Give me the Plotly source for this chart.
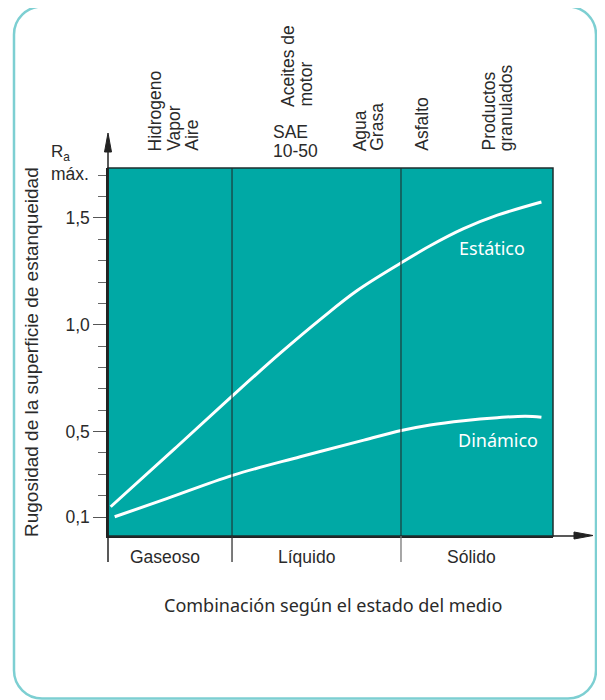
import plotly.graph_objects as go

# ---------------- data ----------------
estatico_x = [0.06, 1.5, 2.80, 3.87, 4.8, 5.6, 6.59, 7.24, 7.99, 8.75, 9.74]
estatico_y = [0.148, 0.42, 0.668, 0.867, 1.03, 1.16, 1.29, 1.37, 1.45, 1.513, 1.575]

dinamico_x = [0.15, 1.32, 2.80, 4.32, 5.75, 6.59, 7.24, 7.99, 8.75, 9.38, 9.74]
dinamico_y = [0.101, 0.186, 0.295, 0.382, 0.460, 0.505, 0.531, 0.551, 0.565, 0.572, 0.567]

region_bounds = [0.0, 2.787, 6.584, 10.0]
region_labels = ["Gaseoso", "Líquido", "Sólido"]
region_label_x = [1.28, 4.45, 8.16]

y_major = [0.1, 0.5, 1.0, 1.5]
y_major_text = ["0,1", "0,5", "1,0", "1,5"]
y_minor = [0.2, 0.3, 0.4, 0.6, 0.7, 0.8, 0.9, 1.1, 1.2, 1.3, 1.4, 1.6, 1.7]

# media labels above the chart (text, x position in data units)
media_rot = [("Hidrogeno", 1.056), ("Vapor", 1.48), ("Aire", 1.87),
             ("Agua", 5.66), ("Grasa", 6.04), ("Asfalto", 7.05),
             ("Productos", 8.54), ("granulados", 8.94)]
media_rot_high = [("Aceites de", 4.045), ("motor", 4.45)]
media_horiz = ["SAE", "10-50"]

# ---------------- layout constants ----------------
OFF = 8  # default page body margin
FW, FH = 605 - OFF, 700 - OFF
# plot area in page pixels
L, R, T, B = 108, 553, 168, 536
W, H = R - L, B - T
X_RANGE = [0, 10]
Y_RANGE = [0.1 - (B - 517) / 213.6, 0.1 + (517 - T) / 213.6]

TEAL = "#00A9A5"
DARK = "#222222"
BORDER = "#7DCFD2"
TXT = "#2a2a2a"
GEO = "Liberation Sans, Arial, sans-serif"
HUM = "Noto Sans, Open Sans, sans-serif"


def xp(px):
    return (px - L) / W


def yp(py):
    return (B - py) / H


fig = go.Figure()

fig.add_trace(go.Scatter(x=estatico_x, y=estatico_y, mode="lines",
                         line=dict(color="white", width=3, shape="spline", smoothing=1.0),
                         showlegend=False, hoverinfo="skip"))
fig.add_trace(go.Scatter(x=dinamico_x, y=dinamico_y, mode="lines",
                         line=dict(color="white", width=3, shape="spline", smoothing=1.0),
                         showlegend=False, hoverinfo="skip"))

shapes = []
# region dividers
for xb in region_bounds[1:-1]:
    shapes.append(dict(type="line", xref="x", yref="paper", x0=xb, x1=xb, y0=0, y1=1,
                       line=dict(color="#1c3a39", width=1.2), layer="above"))
# plot border
shapes.append(dict(type="rect", xref="paper", yref="paper", x0=0, x1=1, y0=0, y1=1,
                   line=dict(color="#1e2e2e", width=1.5), layer="above"))
# y axis extension (up to arrow, down to region tick)
shapes.append(dict(type="line", xref="paper", yref="paper", x0=0, x1=0,
                   y0=yp(562), y1=yp(148), line=dict(color=DARK, width=1.5)))
# y arrow head
shapes.append(dict(type="path", xref="paper", yref="paper",
                   path=f"M {xp(108)} {yp(133)} L {xp(104.5)} {yp(152)} L {xp(111.5)} {yp(152)} Z",
                   fillcolor=DARK, line=dict(color=DARK, width=1)))
# x axis extension to arrow
shapes.append(dict(type="line", xref="paper", yref="paper", x0=1, x1=xp(580),
                   y0=0, y1=0, line=dict(color=DARK, width=1.5)))
shapes.append(dict(type="path", xref="paper", yref="paper",
                   path=f"M {xp(593)} {yp(535.5)} L {xp(574)} {yp(532)} L {xp(574)} {yp(539)} Z",
                   fillcolor=DARK, line=dict(color=DARK, width=1)))
# region ticks below axis
for xb, col in zip(region_bounds[1:-1], ["#333333", "#777777"]):
    shapes.append(dict(type="line", xref="x", yref="paper", x0=xb, x1=xb,
                       y0=yp(562), y1=0, line=dict(color=col, width=1.3)))
# outer rounded frame
x0, x1, y0, y1, r = 14, 596, 6.5, 698.5, 28
k = 0.45
path = (f"M {xp(x0 + r)} {yp(y0)} L {xp(x1 - r)} {yp(y0)} "
        f"C {xp(x1 - r * k)} {yp(y0)} {xp(x1)} {yp(y0 + r * k)} {xp(x1)} {yp(y0 + r)} "
        f"L {xp(x1)} {yp(y1 - r)} "
        f"C {xp(x1)} {yp(y1 - r * k)} {xp(x1 - r * k)} {yp(y1)} {xp(x1 - r)} {yp(y1)} "
        f"L {xp(x0 + r)} {yp(y1)} "
        f"C {xp(x0 + r * k)} {yp(y1)} {xp(x0)} {yp(y1 - r * k)} {xp(x0)} {yp(y1 - r)} "
        f"L {xp(x0)} {yp(y0 + r)} "
        f"C {xp(x0)} {yp(y0 + r * k)} {xp(x0 + r * k)} {yp(y0)} {xp(x0 + r)} {yp(y0)} Z")
shapes.append(dict(type="path", xref="paper", yref="paper", path=path,
                   line=dict(color=BORDER, width=2.5)))

ann = []
gfont = dict(family=GEO, size=17.5, color=TXT)
hfont = dict(family=HUM, size=18, color=TXT)

for txt, xv in media_rot:
    ann.append(dict(text=txt, x=xv, y=yp(152), xref="x", yref="paper", textangle=-90,
                    xanchor="center", yanchor="bottom", showarrow=False, font=gfont, borderpad=0))
for txt, xv in media_rot_high:
    ann.append(dict(text=txt, x=xv, y=yp(108), xref="x", yref="paper", textangle=-90,
                    xanchor="center", yanchor="bottom", showarrow=False, font=gfont, borderpad=0))
for txt, py in zip(media_horiz, [132, 151]):
    ann.append(dict(text=txt, x=xp(272), y=yp(py), xref="paper", yref="paper",
                    xanchor="left", yanchor="middle", showarrow=False, font=gfont, borderpad=0))

for txt, xv in zip(region_labels, region_label_x):
    ann.append(dict(text=txt, x=xv, y=yp(557), xref="x", yref="paper",
                    xanchor="center", yanchor="middle", showarrow=False, font=gfont))

ann.append(dict(text="Combinación según el estado del medio", x=xp(333), y=yp(605),
                xref="paper", yref="paper", xanchor="center", yanchor="middle",
                showarrow=False, font=hfont))
ann.append(dict(text="Rugosidad de la superficie de estanqueidad", x=xp(31), y=yp(352),
                xref="paper", yref="paper", xanchor="center", yanchor="middle", textangle=-90,
                showarrow=False, font=dict(family=GEO, size=19, color=TXT)))
ann.append(dict(text="R<sub>a</sub>", x=xp(50), y=yp(153), xref="paper", yref="paper",
                xanchor="left", yanchor="middle", showarrow=False,
                font=dict(family=GEO, size=17, color=TXT), borderpad=0))
ann.append(dict(text="máx.", x=xp(50), y=yp(174), xref="paper", yref="paper",
                xanchor="left", yanchor="middle", showarrow=False, font=gfont, borderpad=0))

ann.append(dict(text="Estático", x=8.63, y=1.359, xref="x", yref="y",
                xanchor="center", yanchor="middle", showarrow=False,
                font=dict(family=HUM, size=18, color="white")))
ann.append(dict(text="Dinámico", x=8.76, y=0.46, xref="x", yref="y",
                xanchor="center", yanchor="middle", showarrow=False,
                font=dict(family=HUM, size=18, color="white")))

fig.update_layout(
    width=FW, height=FH,
    margin=dict(l=L - OFF, r=FW - (R - OFF), t=T - OFF, b=FH - (B - OFF), pad=0),
    paper_bgcolor="white", plot_bgcolor=TEAL,
    shapes=shapes, annotations=ann, showlegend=False,
    xaxis=dict(range=X_RANGE, showgrid=False, zeroline=False, showticklabels=False,
               ticks="", showline=True, linecolor=DARK, linewidth=1.5, fixedrange=True),
    yaxis=dict(range=Y_RANGE, showgrid=False, zeroline=False,
               tickvals=y_major, ticktext=y_major_text, ticks="outside", ticklen=13,
               tickcolor="#555555", tickwidth=1.3, tickfont=gfont,
               minor=dict(tickvals=y_minor, ticks="outside", ticklen=8,
                          tickcolor="#666666", tickwidth=1.3, showgrid=False),
               showline=True, linecolor=DARK, linewidth=1.5, fixedrange=True),
)

fig.write_html("out.html")
